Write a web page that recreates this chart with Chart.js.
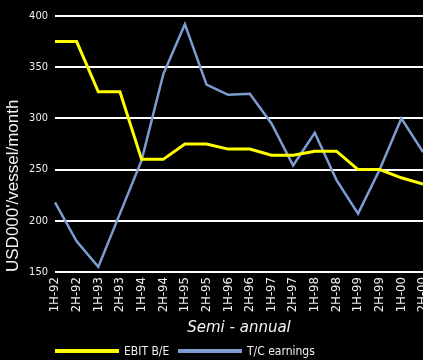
<!DOCTYPE html>
<html>
<head>
<meta charset="utf-8">
<script src="https://cdn.jsdelivr.net/npm/chart.js@4.4.1/dist/chart.umd.min.js"></script>
<style>
  html, body { margin: 0; padding: 0; background: #000; overflow: hidden; }
  #wrap { width: 423px; height: 360px; }
</style>
</head>
<body>
<div id="wrap"><canvas id="ebitChart" width="423" height="360"></canvas></div>
<script>
// data
const periods = ["1H-92", "2H-92", "1H-93", "2H-93", "1H-94", "2H-94", "1H-95", "2H-95", "1H-96",
  "2H-96", "1H-97", "2H-97", "1H-98", "2H-98", "1H-99", "2H-99", "1H-00", "2H-00"];
const ebitBE = [375, 375, 326, 326, 260, 260, 275, 275, 270, 270, 264, 264, 268, 268, 250, 250, 242, 236];
const tcEarnings = [218, 180, 155, 207, 259, 343, 392, 333, 323, 324, 295, 254, 286, 240, 207, 250, 300, 267];
const yTicks = [150, 200, 250, 300, 350, 400];

const narrow = "'Liberation Sans Narrow', 'DejaVu Sans Condensed', sans-serif";

// legend drawn by hand, lines from the left edge of the plot
const bottomLegend = {
  id: "bottomLegend",
  afterDraw(chart) {
    const c = chart.ctx;
    const items = [
      { x: 55, ds: chart.data.datasets[0] },
      { x: 178, ds: chart.data.datasets[1] },
    ];
    c.save();
    c.font = "12px " + narrow;
    c.textBaseline = "middle";
    items.forEach((it) => {
      c.fillStyle = it.ds.borderColor;
      c.fillRect(it.x, 349, 64, 4);
      c.fillStyle = "#f0f0f0";
      c.fillText(it.ds.label, it.x + 69, 352);
    });
    c.restore();
  },
};

const ctx = document.getElementById("ebitChart").getContext("2d");
const ebitChart = new Chart(ctx, {
  type: "line",
  data: {
    labels: periods,
    datasets: [
      {
        label: "EBIT B/E",
        data: ebitBE,
        borderColor: "#ffff00",
        borderWidth: 3,
        pointRadius: 0,
        tension: 0,
      },
      {
        label: "T/C earnings",
        data: tcEarnings,
        borderColor: "#7c9cd2",
        borderWidth: 2.5,
        pointRadius: 0,
        tension: 0,
      },
    ],
  },
  options: {
    responsive: false,
    animation: false,
    layout: { padding: { top: 16, right: 0, bottom: 22, left: 0 } },
    plugins: {
      legend: { display: false },
      tooltip: { enabled: false },
    },
    scales: {
      x: {
        offset: false,
        grid: { display: false, drawTicks: false },
        border: { display: false },
        ticks: {
          color: "#eeeeee",
          font: { family: narrow, size: 13 },
          maxRotation: 90,
          minRotation: 90,
          autoSkip: false,
          padding: 5,
        },
        title: {
          display: true,
          text: "Semi - annual",
          color: "#f4f4f4",
          font: { family: "'DejaVu Sans', sans-serif", size: 15, style: "italic" },
          padding: { top: 0, bottom: 1 },
        },
        afterFit(scale) {
          scale.height = 66;
          scale.paddingRight = 0;
        },
      },
      y: {
        min: 150,
        max: 400,
        afterBuildTicks(scale) {
          scale.ticks = yTicks.map((v) => ({ value: v }));
        },
        grid: { color: "#ffffff", lineWidth: 2, drawTicks: false },
        border: { display: false },
        ticks: {
          color: "#eeeeee",
          font: { family: narrow, size: 11 },
          padding: 7,
        },
        title: {
          display: true,
          text: "USD000'/vessel/month",
          align: "start",
          color: "#f4f4f4",
          font: { family: "'Liberation Sans', sans-serif", size: 17 },
          padding: { top: 3, bottom: 0 },
        },
        afterFit(scale) {
          scale.width = 55;
        },
      },
    },
  },
  plugins: [bottomLegend],
});
</script>
</body>
</html>
